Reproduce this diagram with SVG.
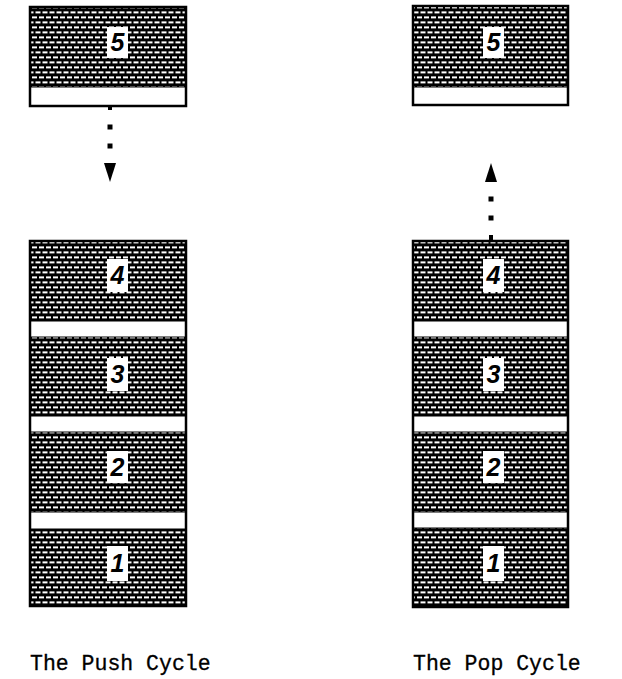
<svg xmlns="http://www.w3.org/2000/svg" width="622" height="679" viewBox="0 0 622 679">
<style>
.box{stroke:#000;stroke-width:2.5;fill:none}
.tex{fill:url(#brick)}
.band{fill:#fff;stroke:#000;stroke-width:1}
.lbl{fill:#fff}
.num{font-family:"Liberation Sans",Arial,sans-serif;font-weight:bold;font-style:italic;font-size:25px;fill:#000;text-anchor:middle}
.cap{font-family:"Liberation Mono","Courier New",monospace;font-size:21.5px;fill:#000;stroke:#000;stroke-width:0.3}
.dot{fill:#000}
</style>
<defs>
<pattern id="brick" width="7" height="10" patternUnits="userSpaceOnUse">
<rect width="7" height="10" fill="#000"/>
<rect x="0.5" y="1.4" width="5" height="2" fill="#fff"/>
<rect x="4" y="6.4" width="5" height="2" fill="#fff"/>
<rect x="-3" y="6.4" width="5" height="2" fill="#fff"/>
</pattern>
</defs>

<g id="push-5">
<rect class="tex" x="30" y="7" width="156" height="80"/>
<rect class="band" x="30" y="87" width="156" height="19"/>
<rect class="box" x="30" y="7" width="156" height="99"/>
<rect class="lbl" x="107" y="27" width="21" height="31"/>
<text class="num" x="117.5" y="51">5</text>
</g>

<g id="push-stack">
<rect class="tex" x="30" y="241" width="156" height="365"/>
<rect class="band" x="30" y="321" width="156" height="16"/>
<rect class="band" x="30" y="416" width="156" height="16"/>
<rect class="band" x="30" y="512" width="156" height="17"/>
<rect class="box" x="30" y="241" width="156" height="365"/>
</g>
<g id="push-4"><rect class="lbl" x="107" y="259" width="21" height="33"/><text class="num" x="117.5" y="284">4</text></g>
<g id="push-3"><rect class="lbl" x="107" y="358" width="21" height="33"/><text class="num" x="117.5" y="383">3</text></g>
<g id="push-2"><rect class="lbl" x="107" y="451" width="21" height="32"/><text class="num" x="117.5" y="476">2</text></g>
<g id="push-1"><rect class="lbl" x="107" y="546" width="21" height="35"/><text class="num" x="117.5" y="572">1</text></g>

<g id="pop-5">
<rect class="tex" x="413" y="6" width="155" height="81"/>
<rect class="band" x="413" y="87" width="155" height="18"/>
<rect class="box" x="413" y="6" width="155" height="99"/>
<rect class="lbl" x="483" y="27" width="21" height="31"/>
<text class="num" x="493.5" y="51">5</text>
</g>

<g id="pop-stack">
<rect class="tex" x="413" y="241" width="155" height="366"/>
<rect class="band" x="413" y="321" width="155" height="16"/>
<rect class="band" x="413" y="416" width="155" height="16"/>
<rect class="band" x="413" y="512" width="155" height="16"/>
<rect class="box" x="413" y="241" width="155" height="366"/>
</g>
<g id="pop-4"><rect class="lbl" x="483" y="259" width="21" height="33"/><text class="num" x="493.5" y="284">4</text></g>
<g id="pop-3"><rect class="lbl" x="483" y="358" width="21" height="33"/><text class="num" x="493.5" y="383">3</text></g>
<g id="pop-2"><rect class="lbl" x="483" y="451" width="21" height="32"/><text class="num" x="493.5" y="476">2</text></g>
<g id="pop-1"><rect class="lbl" x="483" y="546" width="21" height="35"/><text class="num" x="493.5" y="572">1</text></g>

<g id="connectors">
<rect class="dot" x="108" y="106" width="4" height="4"/>
<rect class="dot" x="107.5" y="124.5" width="5" height="5"/>
<rect class="dot" x="107.5" y="143.5" width="5" height="5"/>
<polygon class="dot" points="104,163 116,163 110,182"/>
<polygon class="dot" points="485,182 497,182 491,163"/>
<rect class="dot" x="488.5" y="196.5" width="5" height="5"/>
<rect class="dot" x="488.5" y="215.5" width="5" height="5"/>
<rect class="dot" x="489" y="235" width="4" height="6"/>
</g>

<text class="cap" x="30" y="670">The Push Cycle</text>
<text class="cap" x="413" y="670">The Pop Cycle</text>
</svg>
